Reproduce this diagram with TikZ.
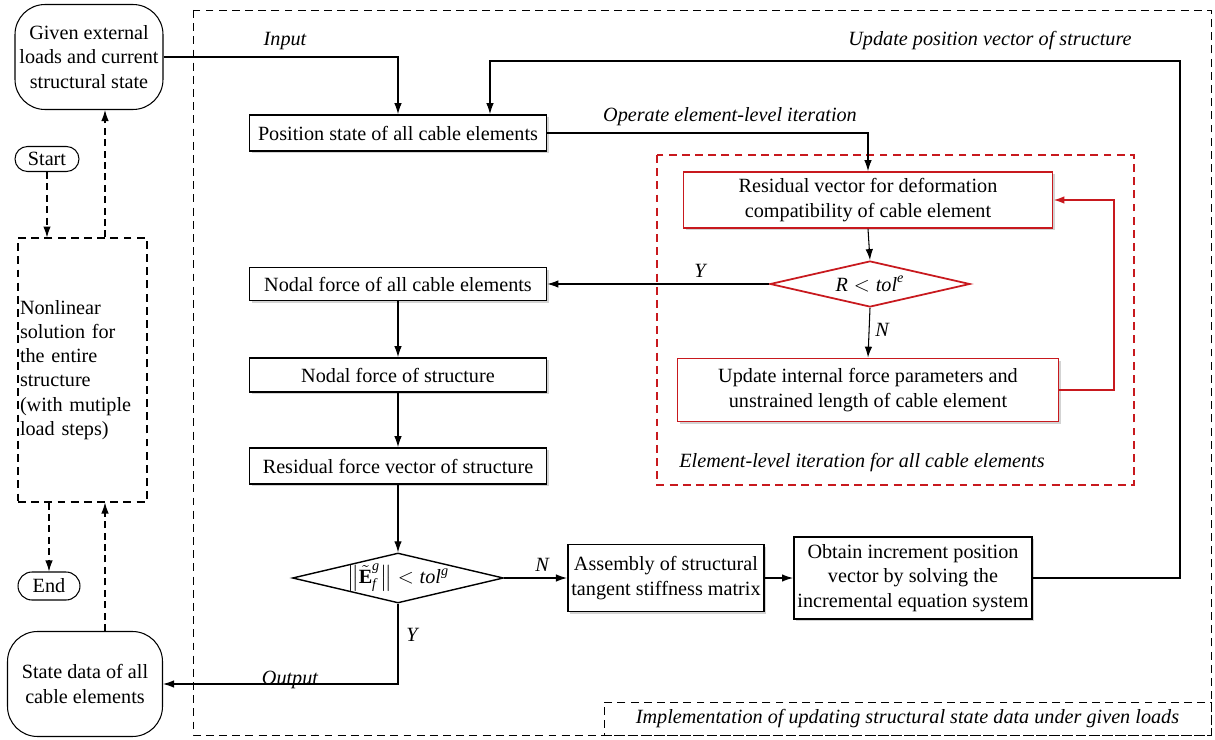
\documentclass[tikz,border=0pt]{standalone}
\usepackage{amsmath}
\usepackage{fontspec}
\setmainfont{Liberation Serif}
\usetikzlibrary{arrows.meta,shapes.geometric,shadows}

\definecolor{cred}{RGB}{200,25,30}

\tikzset{
  every node/.style={font=\fontsize{11.5pt}{13.8pt}\selectfont},
  box/.style={draw,line width=1pt,fill=white,align=center,inner sep=2pt,
    drop shadow={shadow xshift=1.2pt,shadow yshift=-1.2pt,opacity=0.35}},
  redbox/.style={box,draw=cred},
  term/.style={draw,semithick,align=center,inner sep=1pt},
  decide/.style={diamond,draw,thick,fill=white,inner sep=0pt},
  lbl/.style={font=\fontsize{11.5pt}{13.8pt}\selectfont\itshape},
  line/.style={semithick,-{Latex[length=2.2mm,width=1.5mm]}},
  dline/.style={line,dashed,dash pattern=on 4pt off 2.5pt},
  frame/.style={thin,dash pattern=on 4.5pt off 3pt}
}

\begin{document}
\begin{tikzpicture}[x=0.02cm,y=-0.02cm]
\useasboundingbox (0,0) rectangle (1215,740);

% draw frames
\draw[frame] (193,10) rectangle (1211,735);
\draw[frame,cred,semithick] (657,155) rectangle (1134,485);
\node[frame,draw,minimum width=12.14cm,minimum height=0.66cm,lbl] (impl) at (907.5,718.5)
  {Implementation of updating structural state data under given loads};
\node[lbl] (elem) at (862,463) {Element-level iteration for all cable elements};

% left column
\node[term,rounded corners=0.6cm,minimum width=2.96cm,minimum height=2.1cm] (given) at (89,57)
  {Given external\\loads and current\\structural state};
\node[term,rounded corners=0.25cm,minimum width=1.28cm,minimum height=0.5cm] (start) at (47,159) {Start};
\node[draw,frame,semithick,minimum width=2.58cm,minimum height=5.28cm,text width=2.5cm,
  align=left,inner sep=1pt] (nonl) at (82.5,370)
  {Nonlinear\\solution for\\the entire\\structure\\(with mutiple\\load steps)};
\node[term,rounded corners=0.28cm,minimum width=1.24cm,minimum height=0.56cm] (end) at (49,586) {End};
\node[term,rounded corners=0.6cm,minimum width=3.1cm,minimum height=2.1cm] (state) at (85,684)
  {State data of all\\cable elements};
\coordinate (upL) at (105,0);

% main column
\node[box,minimum width=5.94cm,minimum height=0.72cm] (pos) at (398,133) {Position state of all cable elements};
\node[box,minimum width=5.94cm,minimum height=0.66cm] (nfe) at (398,284) {Nodal force of all cable elements};
\node[box,minimum width=5.94cm,minimum height=0.68cm] (nfs) at (398,375) {Nodal force of structure};
\node[box,minimum width=5.94cm,minimum height=0.72cm] (rfs) at (398,466) {Residual force vector of structure};
\node[decide,minimum width=4.22cm,minimum height=1.0cm] (chk) at (398,578) {};
\node (chkT) at (398,578) {$\left\|\tilde{\textbf{E}}^{\textit{g}}_{\textit{f}}\right\|<\textit{tol}^{\textit{g}}$};
\node[box,minimum width=3.42cm,minimum height=1.34cm] (asm) at (666,578)
  {Assembly of structural\\tangent stiffness matrix};
\node[box,minimum width=4.36cm,minimum height=1.64cm] (obt) at (913,578)
  {Obtain increment position\\vector by solving the\\incremental equation system};

% element-level loop
\node[redbox,minimum width=7.38cm,minimum height=1.12cm] (resv) at (868,200)
  {Residual vector for deformation\\compatibility of cable element};
\node[decide,draw=cred,line width=1pt,minimum width=4.0cm,minimum height=0.92cm] (diaE) at (870,284) {};
\node (diaET) at (870,284) {$\textit{R}<\textit{tol}^{\textit{e}}$};
\node[redbox,minimum width=7.62cm,minimum height=1.26cm] (upd) at (868,390)
  {Update internal force parameters and\\unstrained length of cable element};
\coordinate (upR) at (1180,61);

% connectors
\draw[line] (given.east) -| (pos.north);
\node[lbl] (lInput) at (285,41) {Input};
\draw[line] (pos.east) -| (resv.north);
\node[lbl] (lOper) at (730,117) {Operate element-level iteration};
\draw[line] (resv.south) -- (diaE.north);
\draw[line] (diaE.west) -- (nfe.east);
\node[lbl] (lY1) at (700,271) {Y};
\draw[line] (diaE.south) -- (upd.north);
\node[lbl] (lN1) at (882,330) {N};
\draw[line,cred,line width=1pt] (upd.east) -- ++(1.1cm,0) |- (resv.east);
\draw[line] (nfe) -- (nfs);
\draw[line] (nfs) -- (rfs);
\draw[line] (rfs) -- (chk.north);
\draw[line] (chk.east) -- (asm.west);
\node[lbl] (lN2) at (542,565) {N};
\draw[line] (asm) -- (obt);
\draw[line] (obt.east) -| (upR) -| ([xshift=1.84cm]pos.north);
\node[lbl] (lUpd) at (990,41) {Update position vector of structure};
\draw[line] (chk.south) |- (state.east);
\node[lbl] (lY2) at (412,635) {Y};
\node[lbl] (lOut) at (290,680) {Output};

% dashed flow on the left
\draw[dline] (start.south) -- (start.south |- nonl.north);
\draw[dline] (upL |- nonl.north) -- (upL |- given.south);
\draw[dline] (end.north |- nonl.south) -- (end.north);
\draw[dline] (upL |- state.north) -- (upL |- nonl.south);

\end{tikzpicture}
\end{document}
